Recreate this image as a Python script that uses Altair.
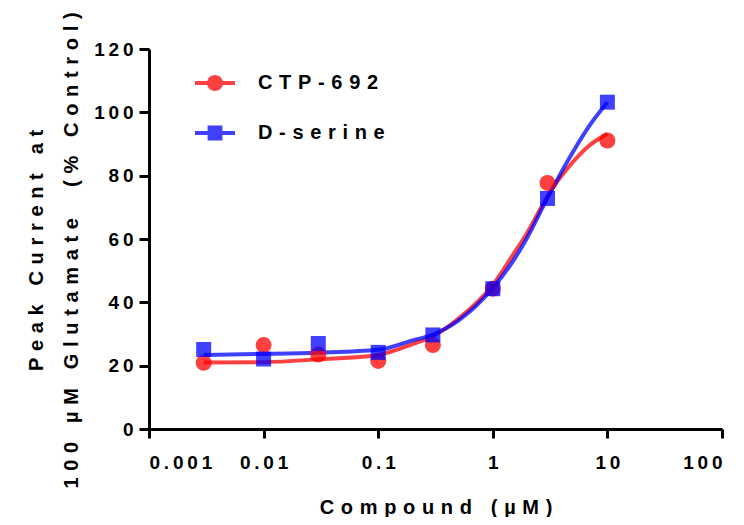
import altair as alt
import pandas as pd

# ---- data ----
series_names = ["CTP-692", "D-serine"]
series_colors = ["#ff0000", "#0000ff"]

conc = [0.003, 0.01, 0.03, 0.1, 0.3, 1, 3, 10]
ctp_vals = [20.9, 26.5, 23.5, 21.5, 26.5, 44.3, 77.7, 91.1]
dser_vals = [25.1, 22.1, 27.0, 24.2, 29.7, 44.3, 72.8, 103.2]

curve_conc = [0.003, 0.01, 0.03, 0.1, 0.2, 0.3, 0.5, 1, 1.5, 2, 3, 5, 7, 10]
ctp_curve = [21.0, 21.1, 22.0, 23.4, 26.8, 29.3, 34.8, 45.5, 55.0, 62.0, 73.5, 84.3, 89.6, 93.2]
dser_curve = [23.4, 23.7, 24.1, 25.0, 28.0, 29.8, 34.2, 44.5, 53.0, 60.5, 73.0, 87.5, 95.9, 103.2]

x_ticks = [0.001, 0.01, 0.1, 1, 10, 100]
y_ticks = [0, 20, 40, 60, 80, 100, 120]

x_title = "Compound (µM)"
y_title = ["Peak Current at", "100 µM Glutamate  (% Control)"]

# ---- helpers ----
WIDE = "\u2004"   # letter spacing for titles / legend
THIN = "\u2009"   # letter spacing for tick labels


def spaced(s, sep=WIDE):
    return sep.join(list(s))


points = pd.DataFrame({
    "conc": conc + conc,
    "value": ctp_vals + dser_vals,
    "series": [series_names[0]] * len(conc) + [series_names[1]] * len(conc),
})
curves = pd.DataFrame({
    "conc": curve_conc + curve_conc,
    "value": ctp_curve + dser_curve,
    "series": [series_names[0]] * len(curve_conc) + [series_names[1]] * len(curve_conc),
})

FONT = "Liberation Sans"

x_enc = alt.X(
    "conc:Q",
    scale=alt.Scale(type="log", domain=[0.001, 100], nice=False),
    axis=alt.Axis(
        values=x_ticks,
        format="~g",
        labelExpr=f"join(split(datum.label, ''), '{THIN}')",
        title=spaced(x_title),
        titleFontSize=20,
        titlePadding=25,
        tickSize=9,
        labelPadding=15,
    ),
)
y_enc = alt.Y(
    "value:Q",
    scale=alt.Scale(domain=[0, 120], nice=False, zero=True),
    axis=alt.Axis(
        values=y_ticks,
        labelExpr=f"join(split(datum.label, ''), '{THIN}')",
        title=[spaced(t) for t in y_title],
        titleFontSize=20,
        titleLineHeight=35,
        titlePadding=12,
        titleY=201,
        tickSize=10,
        labelPadding=6,
    ),
)


def series_line(i):
    return alt.Chart(curves).transform_filter(
        alt.datum.series == series_names[i]
    ).mark_line(
        color=series_colors[i], strokeWidth=4, opacity=0.75, interpolate="monotone"
    ).encode(x=x_enc, y=y_enc)


def series_points(i, shape, size):
    return alt.Chart(points).transform_filter(
        alt.datum.series == series_names[i]
    ).mark_point(
        filled=True, shape=shape, size=size, opacity=0.75, color=series_colors[i]
    ).encode(x="conc:Q", y="value:Q")


# legend symbols: line segment with marker
legend_circle = "M-1,-0.1H1V0.1H-1Z M-0.4,0A0.4,0.4,0,1,1,0.4,0A0.4,0.4,0,1,1,-0.4,0Z"
legend_square = "M-1,-0.1H1V0.1H-1Z M-0.37,-0.37H0.37V0.37H-0.37Z"

legend_props = dict(
    title=None,
    orient="none",
    legendX=46,
    legendY=14,
    symbolSize=1600,
    symbolOpacity=0.75,
    symbolStrokeWidth=0,
    labelFont=FONT,
    labelFontWeight="bold",
    labelFontSize=20,
    labelColor="black",
    labelOffset=23,
    rowPadding=20,
    labelExpr=f"join(split(datum.label, ''), '{WIDE}')",
)

# layer that only carries the legend (no rows reach the marks)
legend_layer = alt.Chart(points).transform_filter(
    "datum.value < 0"
).mark_point(filled=True).encode(
    x="conc:Q",
    y="value:Q",
    color=alt.Color(
        "series:N",
        scale=alt.Scale(domain=series_names, range=series_colors),
        legend=alt.Legend(**legend_props),
    ),
    shape=alt.Shape(
        "series:N",
        scale=alt.Scale(domain=series_names, range=[legend_circle, legend_square]),
        legend=alt.Legend(**legend_props),
    ),
)

chart = alt.layer(
    series_line(0), series_line(1),
    series_points(0, "circle", 256), series_points(1, "square", 225),
    legend_layer,
).properties(
    width=573,
    height=380,
    autosize=alt.AutoSizeParams(type="none"),
    padding={"left": 141, "top": 41, "right": 14, "bottom": 88},
    background="white",
).configure_view(
    stroke=None
).configure_axis(
    grid=False,
    domainColor="black",
    domainWidth=3,
    tickColor="black",
    tickWidth=3,
    labelFont=FONT,
    labelFontWeight="bold",
    labelFontSize=19,
    labelColor="black",
    titleFont=FONT,
    titleFontWeight="bold",
    titleColor="black",
)

chart.save("out.html", embed_options={"renderer": "svg", "actions": False})
